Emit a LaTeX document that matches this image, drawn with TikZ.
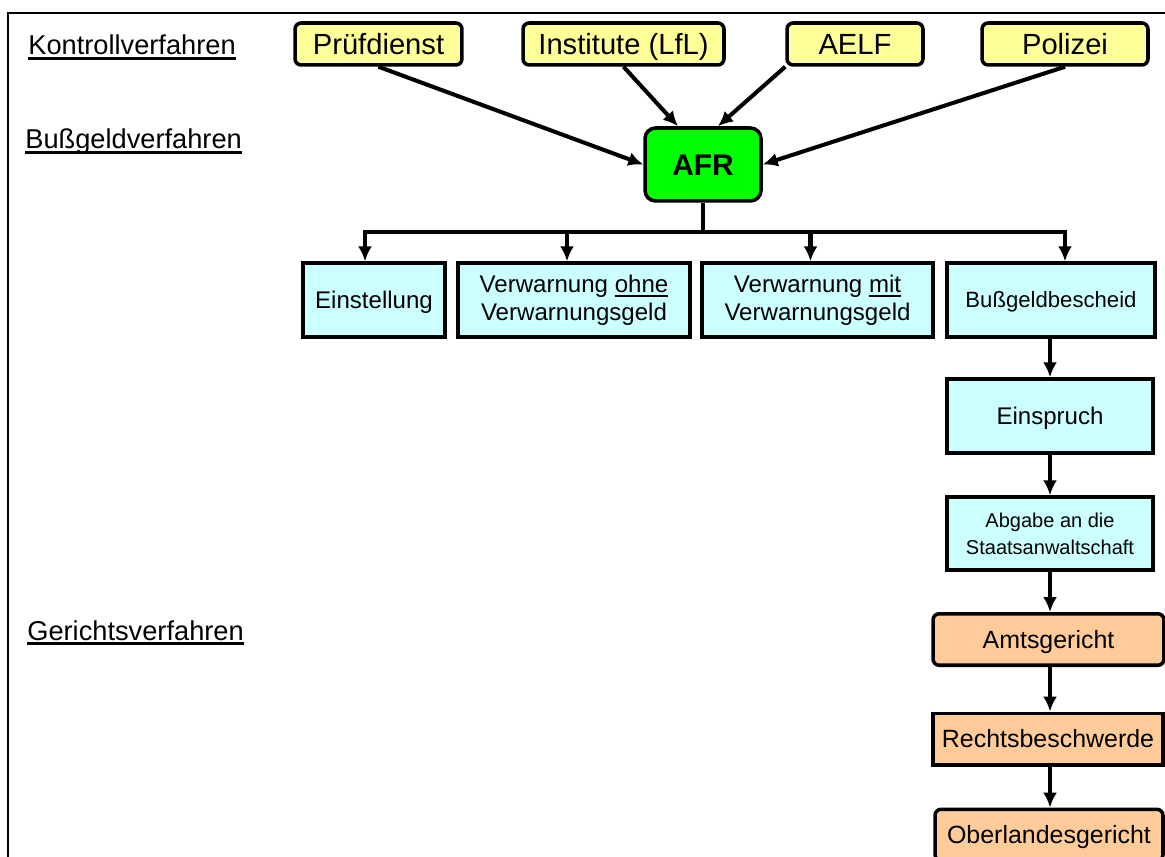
\documentclass[tikz,border=0pt]{standalone}
\usepackage{fontspec}
\setmainfont{Liberation Sans}
\usepackage{tikz}
\usetikzlibrary{arrows.meta}

\definecolor{gelb}{HTML}{FFFF99}
\definecolor{gruen}{HTML}{00FF00}
\definecolor{tuerkis}{HTML}{CCFFFF}
\definecolor{lachs}{HTML}{FFCC99}

% kraeftige Unterstreichung
\newcommand{\unterstr}[2][1.4pt]{\setbox0\hbox{#2}%
  \rlap{\raisebox{-2.6pt}{\rule{\wd0}{#1}}}\box0}

\tikzset{
  stelle/.style={draw,line width=2pt,rounded corners=3.5pt,fill=gelb,
    inner sep=0pt,minimum height=0.84cm,text height=11.9pt,text depth=0pt,
    font=\fontsize{16.6}{20}\selectfont},
  behoerde/.style={draw,line width=2pt,rounded corners=6pt,fill=gruen,
    inner sep=0pt,minimum width=2.32cm,minimum height=1.46cm,
    text height=12.2pt,text depth=0pt,font=\bfseries\fontsize{17}{20}\selectfont},
  entscheid/.style={draw,line width=2pt,fill=tuerkis,inner sep=0pt,
    minimum height=1.48cm,align=center,font=\fontsize{13.7}{16}\selectfont},
  gericht/.style={draw,line width=2pt,fill=lachs,inner sep=0pt,
    minimum height=1.03cm,text height=10.2pt,text depth=0pt,
    font=\fontsize{14.2}{17}\selectfont},
  verfahren/.style={anchor=base west,inner sep=0pt,font=\fontsize{15.5}{18}\selectfont},
  pfeil/.style={line width=2.3pt,-{Latex[length=8.5pt,width=8pt]}},
  linie/.style={line width=2.3pt}
}

\begin{document}
\begin{tikzpicture}[x=0.02cm,y=-0.02cm]
  \clip (0,0) rectangle (1165,857);
  \fill[white] (0,0) rectangle (1165,857);

  % Rahmen
  \draw[line width=1.1pt] (8,900) |- (1200,13);

  % Verfahrensabschnitte
  \node[verfahren] (kontroll) at (28,55) {\unterstr{Kontrollverfahren}};
  \node[verfahren] (bussgeld) at (25,149) {\unterstr{Bußgeldverfahren}};
  \node[verfahren] (gericht) at (27,640) {\unterstr{Gerichtsverfahren}};

  % Kontrollstellen
  \node[stelle,minimum width=3.34cm] (pruef) at (378.5,44) {Prüfdienst};
  \node[stelle,minimum width=4.02cm] (inst) at (623.5,44) {Institute (LfL)};
  \node[stelle,minimum width=2.72cm] (aelf) at (855,44) {AELF};
  \node[stelle,minimum width=3.32cm] (pol) at (1065,44) {Polizei};

  \node[behoerde] (afr) at (703,164.5) {AFR};

  \draw[pfeil] (pruef.south) -- (afr.west);
  \draw[pfeil] (inst.south) -- ([xshift=-0.5cm]afr.north);
  \draw[pfeil] (aelf.south west) -- ([xshift=0.3cm]afr.north);
  \draw[pfeil] (pol.south) -- (afr.east);

  % Entscheidungen der Behoerde
  \node[entscheid,minimum width=2.84cm,text height=9.8pt,text depth=0pt] (einst)
    at (374,300) {Einstellung};
  \node[entscheid,minimum width=4.64cm] (ohne) at (574,300)
    {Verwarnung \unterstr[0.9pt]{ohne}\\Verwarnungsgeld};
  \node[entscheid,minimum width=4.62cm] (mit) at (817.5,300)
    {Verwarnung \unterstr[0.9pt]{mit}\\Verwarnungsgeld};
  \node[entscheid,minimum width=4.16cm,text height=9pt,text depth=0pt,
    font=\fontsize{12.6}{15}\selectfont] (bescheid) at (1051,300) {Bußgeldbescheid};

  \coordinate (split) at (703,232);
  \draw[linie] (afr.south) -- (split);
  \draw[pfeil] (split) -| ([xshift=-0.18cm]einst.north);
  \draw[pfeil] (split) -| ([xshift=-0.14cm]ohne.north);
  \draw[pfeil] (split) -| ([xshift=-0.14cm]mit.north);
  \draw[pfeil] (split) -| ([xshift=0.28cm]bescheid.north);

  % weiterer Weg
  \node[entscheid,minimum width=4.12cm,text height=9.8pt,text depth=0pt] (einspruch)
    at (1050,416) {Einspruch};
  \node[entscheid,minimum width=4.12cm,minimum height=1.46cm,
    font=\fontsize{11.4}{15.5}\selectfont] (abgabe) at (1050,533.5)
    {Abgabe an die\\Staatsanwaltschaft};
  \node[gericht,rounded corners=3.5pt,minimum width=4.62cm] (amts) at (1048.5,639.5) {Amtsgericht};
  \node[gericht,minimum width=4.60cm] (rechts) at (1048,739) {Rechtsbeschwerde};
  \node[gericht,rounded corners=3.5pt,minimum width=4.56cm] (olg) at (1049,835) {Oberlandesgericht};

  \draw[pfeil] (bescheid.south -| einspruch.north) -- (einspruch.north);
  \draw[pfeil] (einspruch) -- (abgabe);
  \draw[pfeil] (abgabe.south) -- (abgabe.south |- amts.north);
  \draw[pfeil] (amts.south -| abgabe.south) -- (abgabe.south |- rechts.north);
  \draw[pfeil] (rechts.south -| abgabe.south) -- (abgabe.south |- olg.north);
\end{tikzpicture}
\end{document}
